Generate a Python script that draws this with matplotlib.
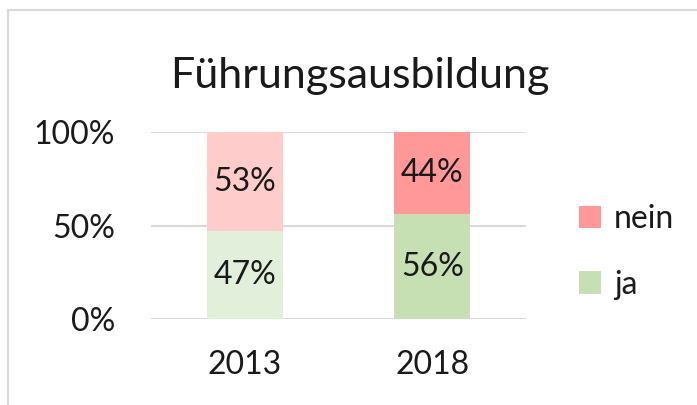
import matplotlib
matplotlib.use("Agg")
import matplotlib.pyplot as plt
from matplotlib.patches import Rectangle, Patch

plt.rcParams['font.family'] = ['Lato', 'DejaVu Sans']

title = "Führungsausbildung"
years = ["2013", "2018"]
ja = [47, 56]
nein = [53, 44]
ja_colors = ["#E2EFDA", "#C6E0B4"]
nein_colors = ["#FFCCCC", "#FF9999"]
legend_labels = ["nein", "ja"]
yticks = [0, 50, 100]
ytick_labels = ["0%", "50%", "100%"]

W, H = 697, 405
fig = plt.figure(figsize=(W / 100, H / 100), dpi=100)
fig.patch.set_facecolor("white")

# chart frame (extends past right/bottom edge)
fig.add_artist(Rectangle((8 / W, -0.1), 1.2, 1 - 10 / H + 0.1, transform=fig.transFigure,
                         fill=False, edgecolor="#D9D9D9", linewidth=1.5))

ax = fig.add_axes([151 / W, 1 - 319 / H, 375 / W, 187 / H])
x = range(len(years))
width = 0.405
ax.bar(x, ja, width=width, color=ja_colors, zorder=2)
ax.bar(x, nein, width=width, bottom=ja, color=nein_colors, zorder=2)

txt = "#1a1a1a"
for i in x:
    ax.text(i, ja[i] / 2, f"{ja[i]}%", ha="center", va="center", fontsize=23, color=txt, zorder=3)
    ax.text(i, ja[i] + nein[i] / 2, f"{nein[i]}%", ha="center", va="center", fontsize=23, color=txt, zorder=3)

ax.set_xlim(-0.5, 1.5)
ax.set_ylim(0, 100)
ax.set_yticks(yticks)
ax.set_yticklabels(ytick_labels)
ax.set_xticks(list(x))
ax.set_xticklabels(years)
ax.tick_params(axis="both", length=0, labelsize=23, labelcolor=txt)
ax.tick_params(axis="y", pad=26)
ax.tick_params(axis="x", pad=22)
for s in ax.spines.values():
    s.set_visible(False)
ax.yaxis.grid(True, color="#D9D9D9", linewidth=1.5, zorder=0)
ax.set_axisbelow(True)

fig.text(360 / W, 1 - 76 / H, title, ha="center", va="center", fontsize=31, color=txt)

handles = [Patch(facecolor=nein_colors[1]), Patch(facecolor=ja_colors[1])]
fig.legend(handles, legend_labels, loc="center left", bbox_to_anchor=(550 / W, 1 - 252 / H),
           frameon=False, fontsize=23, handlelength=0.7, handleheight=0.7,
           labelspacing=1.1, handletextpad=0.4, labelcolor=txt)

fig.savefig("out.png", dpi=100)
